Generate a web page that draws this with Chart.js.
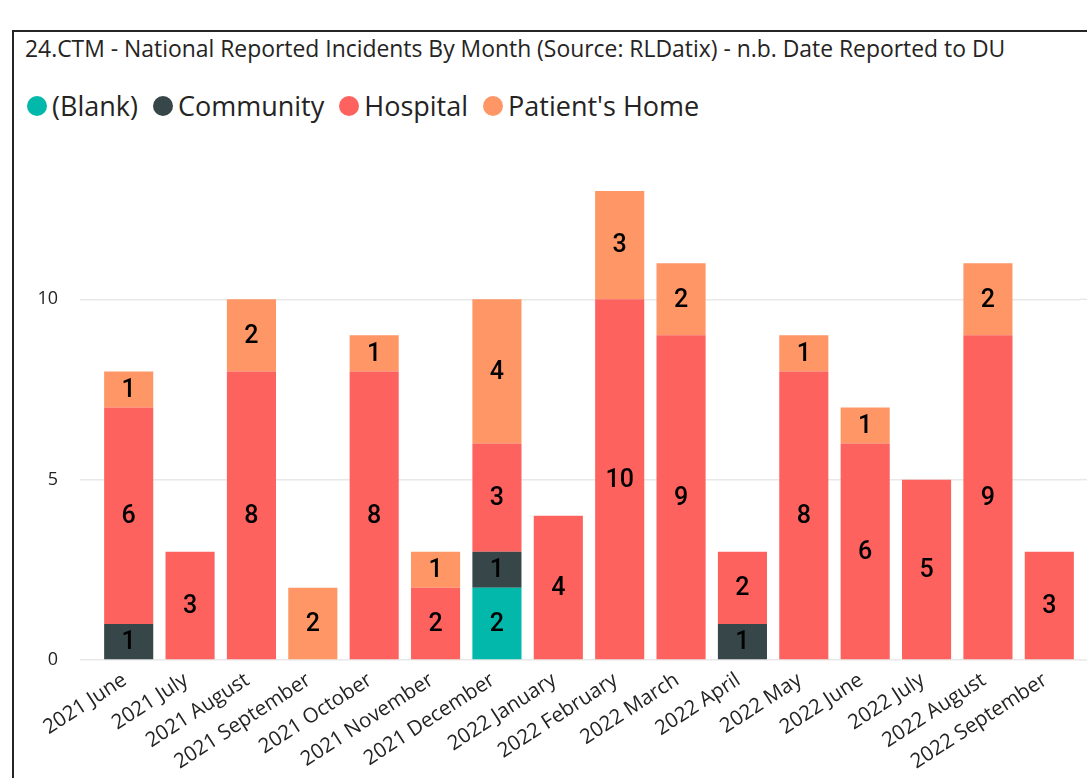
<!DOCTYPE html>
<html>
<head>
<meta charset="utf-8">
<script src="https://cdn.jsdelivr.net/npm/chart.js@4"></script>
<style>
  html, body { margin: 0; padding: 0; background: #fff; overflow: hidden; }
  #wrap { position: relative; width: 1087px; height: 778px; }
  #frame { position: absolute; left: 12px; top: 30px; width: 1100px; height: 800px;
           border-top: 2px solid #252525; border-left: 2px solid #252525; }
  #title { position: absolute; left: 25px; top: 38px; font: 22.9px/1 "Open Sans", sans-serif; color: #252423; white-space: nowrap; }
  #legend { position: absolute; left: 27px; top: 92px; display: flex; align-items: center;
            font: 27px/1 "Open Sans", sans-serif; color: #252423; white-space: nowrap; }
  .item { display: flex; align-items: center; margin-right: 15px; }
  .dot { width: 20px; height: 20px; border-radius: 50%; margin-right: 5px; }
  canvas { position: absolute; left: 0; top: 0; }
</style>
</head>
<body>
<div id="wrap">
  <div id="frame"></div>
  <div id="title">24.CTM - National Reported Incidents By Month (Source: RLDatix) - n.b. Date Reported to DU</div>
  <div id="legend"></div>
  <canvas id="myChart1" width="1087" height="778"></canvas>
</div>
<script>
// categories
var months = ['2021 June', '2021 July', '2021 August', '2021 September', '2021 October',
  '2021 November', '2021 December', '2022 January', '2022 February', '2022 March',
  '2022 April', '2022 May', '2022 June', '2022 July', '2022 August', '2022 September'];

// series values (null = no bar segment)
var blank       = [null, null, null, null, null, null, 2, null, null, null, null, null, null, null, null, null];
var community   = [1, null, null, null, null, null, 1, null, null, null, 1, null, null, null, null, null];
var hospital    = [6, 3, 8, null, 8, 2, 3, 4, 10, 9, 2, 8, 6, 5, 9, 3];
var patientHome = [1, null, 2, 2, 1, 1, 4, null, 3, 2, null, 1, 1, null, 2, null];

var yTicks = [0, 5, 10];

// draws the number in the middle of every segment
var segmentLabels = {
  id: 'segmentLabels',
  afterDatasetsDraw: function(chart) {
    var ctx = chart.ctx;
    ctx.save();
    ctx.font = '500 25px Roboto, sans-serif';
    ctx.fillStyle = '#000';
    ctx.textAlign = 'center';
    ctx.textBaseline = 'middle';
    chart.data.datasets.forEach(function(ds, i) {
      var meta = chart.getDatasetMeta(i);
      meta.data.forEach(function(bar, j) {
        var v = ds.data[j];
        if (v == null) return;
        ctx.fillText(String(v), bar.x, (bar.y + bar.base) / 2 + 1);
      });
    });
    ctx.restore();
  }
};

// gridlines run on to the right edge of the visual
var gridRunOn = {
  id: 'gridRunOn',
  beforeDatasetsDraw: function(chart) {
    var ctx = chart.ctx, y = chart.scales.y, area = chart.chartArea;
    ctx.save();
    ctx.strokeStyle = '#e8e8e8';
    ctx.lineWidth = 1.5;
    y.ticks.forEach(function(t) {
      var py = y.getPixelForValue(t.value);
      ctx.beginPath();
      ctx.moveTo(area.right, py);
      ctx.lineTo(chart.width, py);
      ctx.stroke();
    });
    ctx.restore();
  }
};

var ctx = document.getElementById('myChart1').getContext('2d');
var chart = new Chart(ctx, {
  type: 'bar',
  data: {
    labels: months,
    datasets: [
      { label: '(Blank)', data: blank, backgroundColor: '#01B8AA' },
      { label: 'Community', data: community, backgroundColor: '#374649' },
      { label: 'Hospital', data: hospital, backgroundColor: '#FD625E' },
      { label: "Patient's Home", data: patientHome, backgroundColor: '#FE9666' }
    ]
  },
  options: {
    responsive: false,
    animation: false,
    layout: { padding: { top: 155, right: 7, left: 0, bottom: 0 } },
    plugins: {
      legend: { display: false },
      title: { display: false },
      tooltip: { enabled: false }
    },
    datasets: { bar: { categoryPercentage: 1, barPercentage: 0.8 } },
    scales: {
      x: {
        stacked: true,
        grid: { display: false },
        border: { display: false },
        ticks: {
          autoSkip: false, minRotation: 33, maxRotation: 33, padding: 0, labelOffset: -4,
          color: '#252423', font: { family: 'Open Sans', size: 20.5 }
        },
        afterFit: function(scale) { scale.height = 118; }
      },
      y: {
        stacked: true,
        min: 0, max: 14,
        afterBuildTicks: function(scale) {
          scale.ticks = yTicks.map(function(v) { return { value: v }; });
        },
        grid: { color: '#e8e8e8', lineWidth: 1.5, tickLength: 18 },
        border: { display: false },
        ticks: { padding: 22, color: '#252423', font: { family: 'Open Sans', size: 18 } },
        afterFit: function(scale) { scale.width = 98; }
      }
    }
  },
  plugins: [gridRunOn, segmentLabels]
});

// legend built from the chart's datasets
var legend = document.getElementById('legend');
chart.data.datasets.forEach(function(ds) {
  var item = document.createElement('div');
  item.className = 'item';
  var dot = document.createElement('span');
  dot.className = 'dot';
  dot.style.background = ds.backgroundColor;
  var txt = document.createElement('span');
  txt.textContent = ds.label;
  item.appendChild(dot);
  item.appendChild(txt);
  legend.appendChild(item);
});
</script>
</body>
</html>
